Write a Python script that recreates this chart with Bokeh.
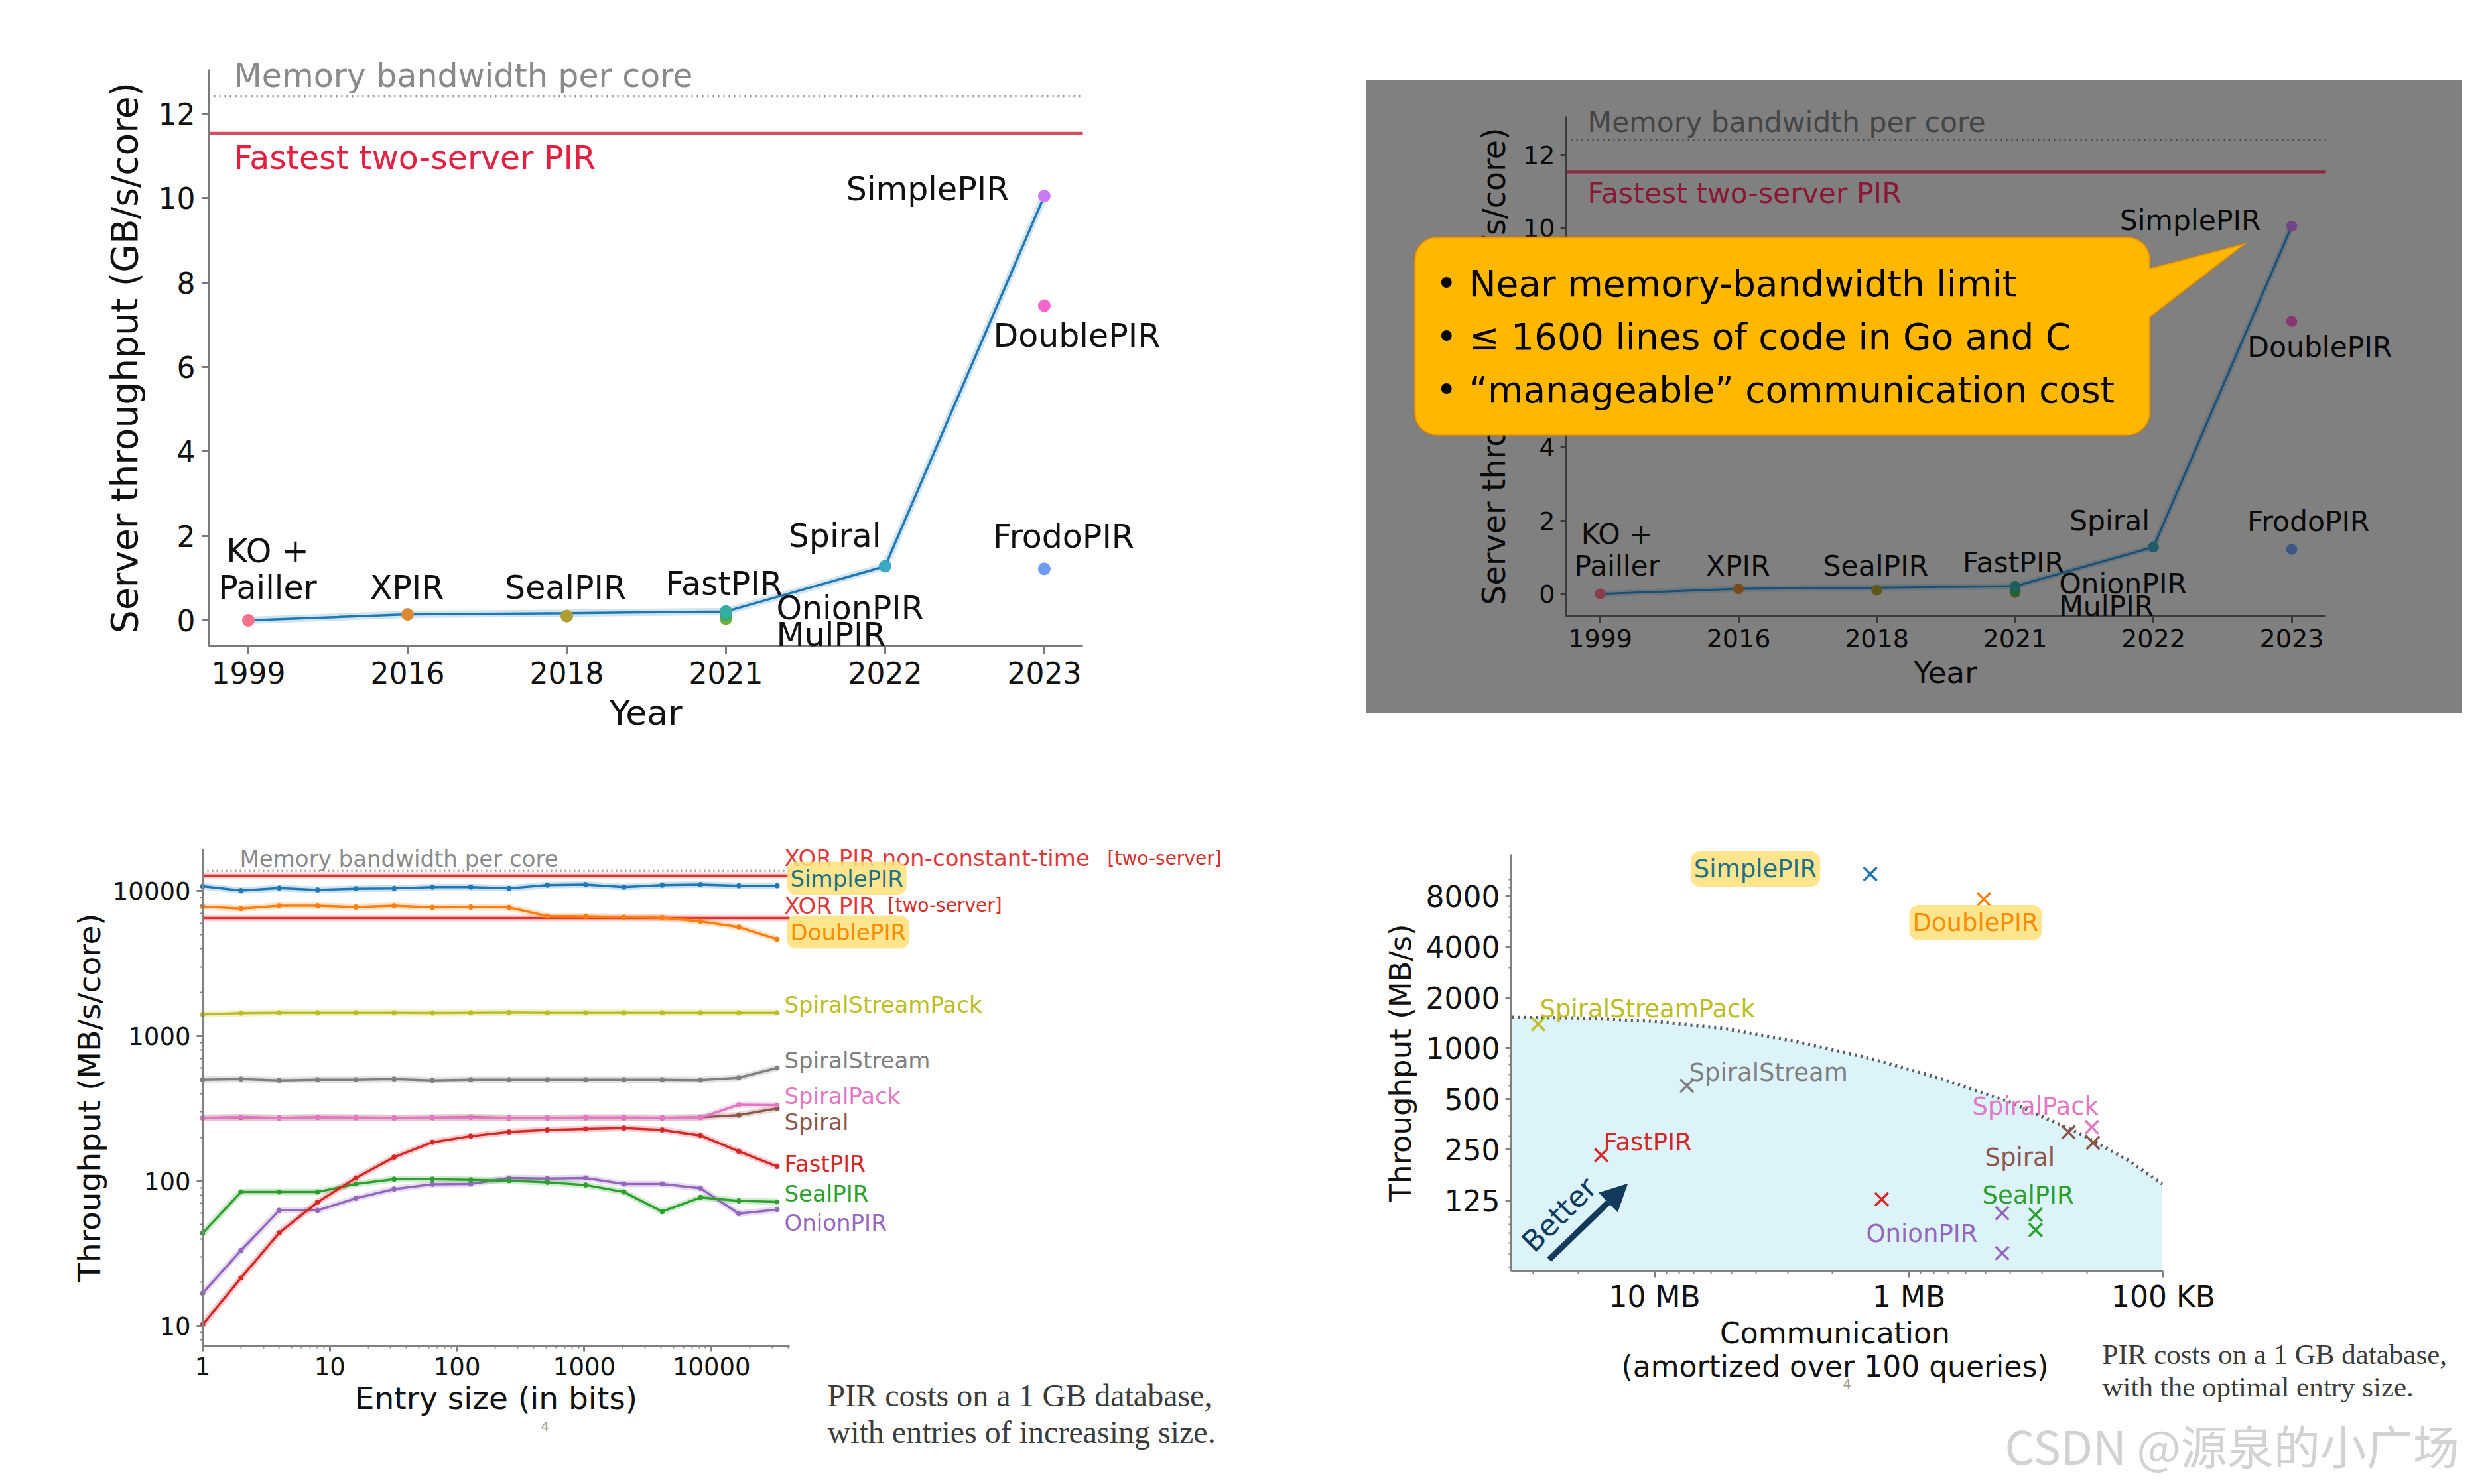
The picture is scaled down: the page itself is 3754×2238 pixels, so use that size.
import math
import numpy as np
from bokeh.plotting import figure
from bokeh.layouts import row, column
from bokeh.models import Range1d, FixedTicker, Label, PolyAnnotation, Arrow, NormalHead, Spacer
from bokeh.embed import file_html
from bokeh.resources import INLINE

FONT = "DejaVu Sans"
SERIF = "Liberation Serif"
CJK = "Noto Sans CJK SC"

# ---------------- panels 1 & 2 : throughput over the years ----------------
years = ["1999", "2016", "2018", "2021", "2022", "2023"]
best_gbs = [0.0, 0.14, 0.17, 0.21, 1.28, 10.05]
scheme_names = ["KO + Paillier", "XPIR", "SealPIR", "MulPIR", "OnionPIR", "FastPIR",
                "Spiral", "FrodoPIR", "SimplePIR", "DoublePIR"]
scheme_years = ["1999", "2016", "2018", "2021", "2021", "2021", "2022", "2023", "2023", "2023"]
scheme_gbs = [0.0, 0.14, 0.10, 0.04, 0.12, 0.21, 1.28, 1.22, 10.05, 7.45]
scheme_colors = ["#f77189", "#dc8932", "#ae9d31", "#77ab31", "#33b07a", "#36ada4",
                 "#38a9c5", "#6e9bf4", "#cc7af4", "#f565cc"]
mem_bw_gbs = 12.41
two_server_gbs = 11.53
year_ticks = [0, 2, 4, 6, 8, 10, 12]

# ---------------- panel 3 : throughput vs entry size ----------------
entry_bits = [1, 2, 4, 8, 16, 32, 64, 128, 256, 512, 1024, 2048, 4096, 8192, 16384, 32768]
simplepir_mbs = [10800, 10100, 10500, 10200, 10400, 10460, 10670, 10670, 10460, 11000, 11100, 10670, 11000, 11100, 10900, 10900]
doublepir_mbs = [7820, 7570, 7920, 7920, 7760, 7920, 7710, 7760, 7710, 6730, 6700, 6600, 6560, 6190, 5650, 4660]
spiralstreampack_mbs = [1410, 1440, 1450, 1450, 1450, 1450, 1445, 1450, 1455, 1450, 1450, 1450, 1450, 1450, 1450, 1450]
spiralstream_mbs = [500, 505, 495, 500, 500, 505, 495, 500, 500, 500, 500, 500, 500, 498, 516, 603]
spiralpack_mbs = [272, 276, 272, 275, 274, 272, 274, 274, 272, 272, 274, 274, 273, 274, 336, 334]
spiral_mbs = [272, 274, 272, 274, 273, 272, 273, 276, 272, 272, 273, 273, 272, 275, 285, 317]
fastpir_mbs = [10.2, 21.4, 43.9, 71.4, 105, 146, 185, 204, 218, 225, 229, 232, 225, 206, 160, 126]
sealpir_mbs = [43.6, 84, 84, 84, 95.5, 103, 103, 102, 100.6, 98, 93.8, 84, 61.5, 77, 73, 71.8]
onionpir_mbs = [16.8, 33.2, 62.7, 62.7, 76, 88, 95, 95.5, 105, 104, 105, 95.5, 95.5, 89, 59.6, 63.5]
mem_bw_mbs = 13800
xor_nct_mbs = 12800
xor_mbs = 6520
p3_series = ["SimplePIR", "DoublePIR", "SpiralStreamPack", "SpiralStream", "SpiralPack",
             "Spiral", "FastPIR", "SealPIR", "OnionPIR"]
p3_values = [simplepir_mbs, doublepir_mbs, spiralstreampack_mbs, spiralstream_mbs,
             spiralpack_mbs, spiral_mbs, fastpir_mbs, sealpir_mbs, onionpir_mbs]
p3_colors = ["#1f77b4", "#ff7f0e", "#bcbd22", "#7f7f7f", "#e377c2", "#8c564b",
             "#d62728", "#2ca02c", "#9467bd"]
entry_ticks = [1, 10, 100, 1000, 10000]
entry_tick_labels = ["1", "10", "100", "1000", "10000"]
p3_y_ticks = [10, 100, 1000, 10000]
p3_y_tick_labels = ["10", "100", "1000", "10000"]

# ---------------- panel 4 : throughput vs communication ----------------
p4_names = ["SimplePIR", "DoublePIR", "SpiralStreamPack", "SpiralStream", "FastPIR", "FastPIR",
            "SpiralPack", "Spiral", "Spiral", "SealPIR", "SealPIR", "OnionPIR", "OnionPIR"]
p4_comm_bytes = [1.42e6, 5.08e5, 2.87e7, 7.47e6, 1.62e7, 1.28e6, 1.91e5, 2.36e5, 1.89e5,
                 3.18e5, 3.18e5, 4.30e5, 4.30e5]
p4_tput_mbs = [10800, 7650, 1390, 599, 232, 127, 340, 318, 275, 103, 83.6, 105, 60.9]
p4_colors = ["#1f77b4", "#ff7f0e", "#bcbd22", "#7f7f7f", "#d62728", "#d62728", "#e377c2",
             "#8c564b", "#8c564b", "#2ca02c", "#2ca02c", "#9467bd", "#9467bd"]
frontier_comm = [3.65e7, 1.94e7, 1.01e7, 5.28e6, 2.76e6, 1.44e6, 7.52e5, 3.92e5, 2.05e5, 1.38e5, 1.01e5]
frontier_tput = [1528, 1511, 1445, 1307, 1093, 875, 662, 474, 303, 217, 157]
comm_ticks = [1e7, 1e6, 1e5]
comm_tick_labels = ["10 MB", "1 MB", "100 KB"]
tput_ticks = [125, 250, 500, 1000, 2000, 4000, 8000]
tput_tick_labels = ["125", "250", "500", "1000", "2000", "4000", "8000"]

# ---------------- helpers ----------------
def inv(A, xr, yr, sx, sy, xlog=False, ylog=False):
    tx = (sx - A["L"]) / (A["R"] - A["L"])
    ty = (A["B"] - sy) / (A["B"] - A["T"])
    if xlog:
        x = 10 ** (math.log10(xr[0]) + tx * (math.log10(xr[1]) - math.log10(xr[0])))
    else:
        x = xr[0] + tx * (xr[1] - xr[0])
    if ylog:
        y = 10 ** (math.log10(yr[0]) + ty * (math.log10(yr[1]) - math.log10(yr[0])))
    else:
        y = yr[0] + ty * (yr[1] - yr[0])
    return x, y


def make_fig(box, A, xr, yr, xlog=False, ylog=False, **kw):
    sx0, sy0, w, h = box
    x0, y1 = inv(A, xr, yr, sx0, sy0, xlog, ylog)
    x1, y0 = inv(A, xr, yr, sx0 + w, sy0 + h, xlog, ylog)
    p = figure(width=w, height=h, x_range=Range1d(x0, x1), y_range=Range1d(y0, y1),
               output_backend="svg", toolbar_location=None, min_border=0,
               x_axis_type="log" if xlog else "linear",
               y_axis_type="log" if ylog else "linear", **kw)
    p.grid.visible = False
    p.outline_line_color = None
    p.xaxis.fixed_location = yr[0]
    p.xaxis.bounds = (min(xr), max(xr))
    p.yaxis.fixed_location = xr[0]
    p.yaxis.bounds = (min(yr), max(yr))
    return p


def lab(p, text, x, y, size, color="#111111", align="left", baseline="middle",
        font=FONT, angle=0.0, bg=None):
    kw = {}
    if bg is not None:
        kw = dict(background_fill_color=bg, background_fill_alpha=0.85, padding=5, border_radius=14)
    p.add_layout(Label(x=x, y=y, text=text, text_font=font, text_font_size=f"{size:.1f}px",
                       text_color=color, text_align=align, text_baseline=baseline,
                       angle=angle, **kw))


def style_axis(ax, tick_size, label_size, line_color, text_color, tick_out, standoff,
               label_standoff, lw=3):
    ax.axis_line_color = line_color
    ax.axis_line_width = lw
    ax.major_tick_line_color = line_color
    ax.major_tick_line_width = lw
    ax.minor_tick_line_color = line_color
    ax.minor_tick_line_width = max(1, lw - 1)
    ax.major_tick_out = tick_out
    ax.major_tick_in = 0
    ax.minor_tick_out = max(2, tick_out // 2)
    ax.minor_tick_in = 0
    ax.major_label_text_font = FONT
    ax.major_label_text_font_size = f"{tick_size:.1f}px"
    ax.major_label_text_color = text_color
    ax.major_label_standoff = standoff
    ax.axis_label_text_font = FONT
    ax.axis_label_text_font_size = f"{label_size:.1f}px"
    ax.axis_label_text_font_style = "normal"
    ax.axis_label_text_color = text_color
    ax.axis_label_standoff = label_standoff


def dim(c, f=0.55):
    c = c.lstrip("#")
    r, g, b = (int(c[i:i + 2], 16) for i in (0, 2, 4))
    return "#%02x%02x%02x" % (int(r * f), int(g * f), int(b * f))

# ---------------- panels 1 & 2 ----------------
YR_X = (-0.25, 5.242)
YR_Y = (-0.612, 13.05)
A1 = dict(L=314, R=1632, T=104, B=974)
A2 = dict(L=2360, R=3505, T=175, B=929)
BOX1 = (0, 0, 2059, 1188)
BOX2 = (2059, 120, 1653, 955)

p1_label_text = ["KO +", "Pailler", "XPIR", "SealPIR", "FastPIR", "OnionPIR", "MulPIR",
                 "Spiral", "SimplePIR", "DoublePIR", "FrodoPIR"]
p1_label_px = [(403, 831), (403, 886), (613, 886), (852, 886), (1091, 880), (1170, 917),
               (1170, 957), (1258, 808), (1398, 285), (1497, 506), (1603, 809)]
p1_label_align = ["center", "center", "center", "center", "center", "left", "left",
                  "center", "center", "left", "center"]
p1_label_xy = [inv(A1, YR_X, YR_Y, sx, sy) for sx, sy in p1_label_px]
mem_txt_xy = inv(A1, YR_X, YR_Y, 352, 114)
fast_txt_xy = inv(A1, YR_X, YR_Y, 352, 238)

year_idx = list(range(len(years)))
scheme_idx = [years.index(y) for y in scheme_years]


def year_panel(box, A, s, dark):
    kw = {}
    if dark:
        kw = dict(background_fill_color="#808080", border_fill_color="#808080")
    p = make_fig(box, A, YR_X, YR_Y, **kw)
    ax_col = "#3a3a3a" if dark else "#7a7a7a"
    txt = "#0a0a0a" if dark else "#111111"
    style_axis(p.xaxis[0], 44 * s, 52 * s, ax_col, txt, int(12 * s), int(11 * s), int(11 * s), lw=3)
    style_axis(p.yaxis[0], 44 * s, 55 * s, ax_col, txt, int(10 * s), int(10 * s), int(16 * s), lw=3)
    p.xaxis.ticker = FixedTicker(ticks=year_idx)
    p.xaxis.major_label_overrides = {i: y for i, y in zip(year_idx, years)}
    p.xaxis.minor_tick_line_color = None
    p.yaxis.ticker = FixedTicker(ticks=year_ticks)
    p.yaxis.minor_tick_line_color = None
    p.xaxis.axis_label = "Year"
    p.yaxis.axis_label = "Server throughput (GB/s/core)"

    mem_c = "#454545" if dark else "#8a8a8a"
    red_line = "#8a2a40" if dark else "#d94a62"
    red_txt = "#8a1834" if dark else "#e3203f"
    p.segment(x0=[YR_X[0]], y0=[mem_bw_gbs], x1=[YR_X[1]], y1=[mem_bw_gbs],
              line_color=mem_c, line_width=4 * s, line_dash="2 6")
    p.segment(x0=[YR_X[0]], y0=[two_server_gbs], x1=[YR_X[1]], y1=[two_server_gbs],
              line_color=red_line, line_width=5 * s)
    lab(p, "Memory bandwidth per core", *mem_txt_xy, 49 * s, mem_c)
    lab(p, "Fastest two-server PIR", *fast_txt_xy, 49 * s, red_txt)

    line_c = "#1a4f75" if dark else "#1f77b4"
    p.line(year_idx, best_gbs, line_color=line_c, line_width=11 * s, line_alpha=0.2)
    p.line(year_idx, best_gbs, line_color=line_c, line_width=3.5 * s)
    cols = [dim(c) for c in scheme_colors] if dark else scheme_colors
    p.scatter(scheme_idx, scheme_gbs, size=18 * s, fill_color=cols, line_color=cols)
    for t, (x, y), a in zip(p1_label_text, p1_label_xy, p1_label_align):
        lab(p, t, x, y, 49 * s, txt, align=a)
    return p


p1 = year_panel(BOX1, A1, 1.0, False)
p2 = year_panel(BOX2, A2, 0.867, True)


def callout_outline(x0, y0, x1, y1, r, py0, py1, tip):
    pts = []
    def arc(cx, cy, a0, a1):
        for t in np.linspace(a0, a1, 10):
            pts.append((cx + r * math.cos(t), cy + r * math.sin(t)))
    arc(x1 - r, y0 + r, -math.pi / 2, 0)
    pts.append((x1, py0))
    pts.append(tip)
    pts.append((x1, py1))
    arc(x1 - r, y1 - r, 0, math.pi / 2)
    arc(x0 + r, y1 - r, math.pi / 2, math.pi)
    arc(x0 + r, y0 + r, math.pi, 1.5 * math.pi)
    return pts

co = [inv(A2, YR_X, YR_Y, sx, sy)
      for sx, sy in callout_outline(2132, 357, 3241, 656, 34, 404, 478, (3386, 366))]
p2.add_layout(PolyAnnotation(xs=[c[0] for c in co], ys=[c[1] for c in co],
                             fill_color="#ffb700", fill_alpha=1.0,
                             line_color="#c66a00", line_width=4))
callout_lines = ["\u2022 Near memory-bandwidth limit",
                 "\u2022 \u2264 1600 lines of code in Go and C",
                 "\u2022 \u201cmanageable\u201d communication cost"]
for t, sy in zip(callout_lines, [427, 507, 587]):
    x, y = inv(A2, YR_X, YR_Y, 2164, sy)
    lab(p2, t, x, y, 55, "#000000")

# ---------------- panel 3 ----------------
A3 = dict(L=305, R=1190, T=1280, B=2029)
P3_X = (1.0, 41100.0)
P3_Y = (7.3, 19500.0)
BOX3 = (0, 1188, 2059, 1042)
p3 = make_fig(BOX3, A3, P3_X, P3_Y, xlog=True, ylog=True)
style_axis(p3.xaxis[0], 37, 47, "#808080", "#111111", 9, 8, 4, lw=3)
style_axis(p3.yaxis[0], 37, 47, "#808080", "#111111", 9, 9, 5, lw=3)
p3.xaxis.ticker = FixedTicker(ticks=entry_ticks,
                              minor_ticks=[m * 10 ** d for d in range(5) for m in range(2, 10) if m * 10 ** d < 41100])
p3.xaxis.major_label_overrides = dict(zip(entry_ticks, entry_tick_labels))
p3.yaxis.ticker = FixedTicker(ticks=p3_y_ticks,
                              minor_ticks=[m * 10 ** d for d in range(0, 5) for m in range(2, 10) if 7.3 < m * 10 ** d < 19500])
p3.yaxis.major_label_overrides = dict(zip(p3_y_ticks, p3_y_tick_labels))
p3.xaxis.axis_label = "Entry size (in bits)"
p3.yaxis.axis_label = "Throughput (MB/s/core)"

p3.segment(x0=[P3_X[0]], y0=[mem_bw_mbs], x1=[P3_X[1]], y1=[mem_bw_mbs],
           line_color="#8a8a8a", line_width=3, line_dash="2 5")
for loc in (xor_nct_mbs, xor_mbs):
    p3.segment(x0=[P3_X[0]], y0=[loc], x1=[P3_X[1]], y1=[loc],
               line_color="#e04040", line_width=10, line_alpha=0.2)
    p3.segment(x0=[P3_X[0]], y0=[loc], x1=[P3_X[1]], y1=[loc],
               line_color="#dd3333", line_width=3.5)
for vals, c in zip(p3_values[::-1], p3_colors[::-1]):
    p3.line(entry_bits, vals, line_color=c, line_width=10, line_alpha=0.22)
    p3.line(entry_bits, vals, line_color=c, line_width=3.5)
    p3.scatter(entry_bits, vals, size=7, fill_color=c, line_color=c)


def l3(text, sx, sy, size, color, bg=None, font=FONT, align="left"):
    x, y = inv(A3, P3_X, P3_Y, sx, sy, True, True)
    lab(p3, text, x, y, size, color, align=align, bg=bg, font=font)

l3("Memory bandwidth per core", 361, 1294, 34, "#8a8a8a")
l3("XOR PIR non-constant-time", 1182, 1293, 34, "#e0383a")
l3("[two-server]", 1669, 1294, 28, "#d5302c")
l3("SimplePIR", 1186, 1324, 34, "#1f6f86", bg="#ffe27a")
l3("XOR PIR", 1182, 1365, 34, "#e0383a")
l3("[two-server]", 1338, 1365, 28, "#d5302c")
l3("DoublePIR", 1186, 1405, 34, "#ff8c00", bg="#ffe27a")
for name, sy in zip(["SpiralStreamPack", "SpiralStream", "SpiralPack", "Spiral", "FastPIR",
                     "SealPIR", "OnionPIR"], [1514, 1598, 1652, 1691, 1754, 1799, 1843]):
    c = p3_colors[p3_series.index(name)]
    l3(name, 1182, sy, 34, c)
l3("PIR costs on a 1 GB database,", 1247, 2104, 48, "#3c3c3c", font=SERIF)
l3("with entries of increasing size.", 1247, 2159, 48, "#3c3c3c", font=SERIF)
l3("4", 821, 2150, 20, "#9a9a9a", align="center")

# ---------------- panel 4 ----------------
A4 = dict(L=2278, R=3261, T=1288, B=1917)
P4_X = (3.66e7, 1.0e5)
P4_Y = (47.4, 14130.0)
BOX4 = (2059, 1188, 1687, 1042)
p4 = make_fig(BOX4, A4, P4_X, P4_Y, xlog=True, ylog=True)
style_axis(p4.xaxis[0], 44, 44, "#808080", "#111111", 9, 3, 4, lw=3)
style_axis(p4.yaxis[0], 44, 45, "#808080", "#111111", 9, 8, 9, lw=3)
p4.xaxis.ticker = FixedTicker(ticks=comm_ticks,
                              minor_ticks=[m * 10 ** d for d in (5, 6, 7) for m in range(2, 10) if m * 10 ** d < 3.66e7])
p4.xaxis.major_label_overrides = dict(zip(comm_ticks, comm_tick_labels))
p4.yaxis.ticker = FixedTicker(ticks=tput_ticks,
                              minor_ticks=[m * 10 ** d for d in (1, 2, 3, 4) for m in range(1, 10) if 47.4 < m * 10 ** d < 14130])
p4.yaxis.major_label_overrides = dict(zip(tput_ticks, tput_tick_labels))
p4.yaxis.axis_label = "Throughput (MB/s)"

p4.varea(x=frontier_comm, y1=[P4_Y[0]] * len(frontier_comm), y2=frontier_tput,
         fill_color="#dcf3fa", fill_alpha=1.0)
p4.line(frontier_comm, frontier_tput, line_color="#5a5a5a", line_width=5, line_dash="3 6")
p4.scatter(p4_comm_bytes, p4_tput_mbs, marker="x", size=28, line_color=p4_colors, line_width=3.5)


def l4(text, sx, sy, size, color, bg=None, font=FONT, align="left", angle=0.0):
    x, y = inv(A4, P4_X, P4_Y, sx, sy, True, True)
    lab(p4, text, x, y, size, color, align=align, bg=bg, font=font, angle=angle)

l4("SimplePIR", 2646, 1310, 37, "#1f6f86", bg="#ffe27a", align="center")
l4("DoublePIR", 2978, 1391, 37, "#ff8c00", bg="#ffe27a", align="center")
p4_label_text = ["SpiralStreamPack", "SpiralStream", "SpiralPack", "Spiral", "FastPIR", "SealPIR", "OnionPIR"]
p4_label_px = [(2321, 1521), (2546, 1617), (2973, 1668), (2992, 1745), (2417, 1722), (2988, 1802), (2813, 1860)]
for t, (sx, sy) in zip(p4_label_text, p4_label_px):
    l4(t, sx, sy, 37, p4_colors[p4_names.index(t)])

ax0, ay0 = inv(A4, P4_X, P4_Y, 2335, 1899, True, True)
ax1, ay1 = inv(A4, P4_X, P4_Y, 2453, 1785, True, True)
p4.add_layout(Arrow(x_start=ax0, y_start=ay0, x_end=ax1, y_end=ay1, line_color="#123a5c",
                    line_width=9, end=NormalHead(size=40, fill_color="#123a5c", line_color="#123a5c")))
l4("Better", 2350, 1831, 44, "#123a5c", align="center", angle=math.radians(45))
l4("Communication", 2766, 2010, 44, "#111111", align="center")
l4("(amortized over 100 queries)", 2766, 2060, 44, "#111111", align="center")
l4("PIR costs on a 1 GB database,", 3169, 2042, 43, "#3c3c3c", font=SERIF)
l4("with the optimal entry size.", 3169, 2091, 43, "#3c3c3c", font=SERIF)
l4("4", 2784, 2086, 20, "#9a9a9a", align="center")
l4("CSDN @源泉的小广场", 3022, 2178, 70, "#d2d2d2", font=CJK)

layout = column(
    row(p1, column(Spacer(width=BOX2[2], height=BOX2[1]), p2)),
    row(p3, p4),
)
open("out.html", "w").write(file_html(layout, INLINE))
